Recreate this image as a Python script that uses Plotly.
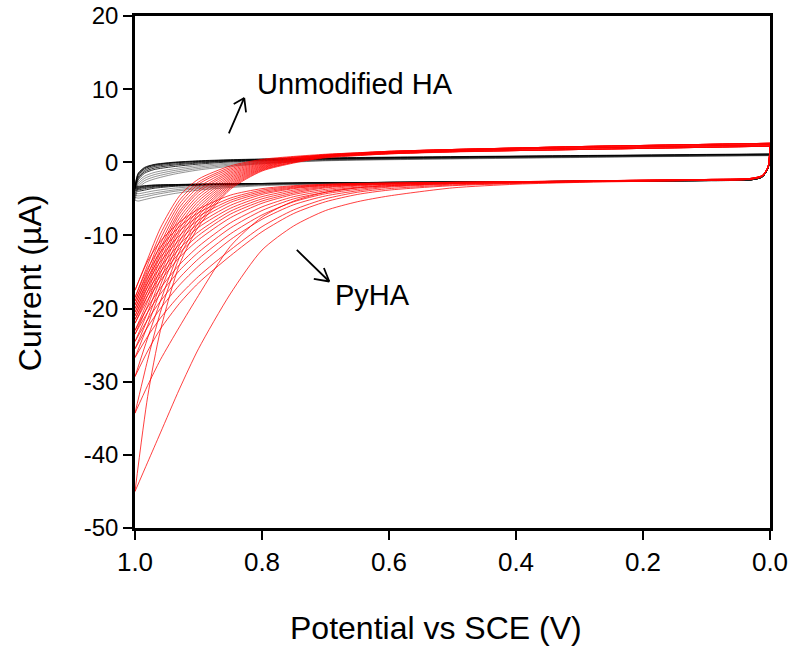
import plotly.graph_objects as go

# ---------------- data ----------------
# Potential grids (V) for the forward (upper) and reverse (lower) branches
red_fwd_x = [0.0, 0.1, 0.2, 0.3, 0.4, 0.5, 0.6, 0.65, 0.7, 0.75, 0.8, 0.85, 0.9, 0.93, 0.96, 0.98, 1.0]
red_rev_x = [1.0, 0.98, 0.96, 0.93, 0.9, 0.85, 0.8, 0.75, 0.7, 0.65, 0.6, 0.5, 0.4, 0.3, 0.2, 0.1, 0.03, 0.012, 0.003, 0.0]

# PyHA cycles: current (uA), forward branch
pyha_fwd = [
    [2.6, 2.45, 2.3, 2.15, 1.95, 1.75, 1.5, 1.3, 1.1, 0.8, 0.4, -0.5, -2.3, -4.6, -9.0, -13.2, -17.5],
    [2.4, 2.25, 2.1, 1.95, 1.8, 1.6, 1.35, 1.2, 1.0, 0.7, 0.3, -0.7, -2.7, -5.2, -9.8, -14.0, -18.5],
    [2.2, 2.05, 1.9, 1.75, 1.6, 1.45, 1.2, 1.05, 0.9, 0.7, 0.2, -0.9, -3.0, -5.7, -10.5, -14.8, -19.0],
    [2.6, 2.45, 2.3, 2.15, 1.95, 1.75, 1.5, 1.3, 1.05, 0.6, 0.1, -1.1, -3.4, -6.2, -11.2, -15.4, -19.5],
    [2.4, 2.25, 2.1, 1.95, 1.8, 1.6, 1.35, 1.2, 0.95, 0.6, 0.0, -1.3, -3.8, -6.7, -11.8, -16.0, -20.0],
    [2.2, 2.05, 1.9, 1.75, 1.6, 1.45, 1.2, 1.0, 0.85, 0.5, -0.1, -1.5, -4.1, -7.1, -12.3, -16.5, -20.5],
    [2.6, 2.45, 2.3, 2.15, 1.95, 1.75, 1.5, 1.25, 1.0, 0.5, -0.2, -1.7, -4.5, -7.6, -12.8, -17.0, -21.0],
    [2.4, 2.25, 2.1, 1.95, 1.8, 1.6, 1.35, 1.15, 0.9, 0.4, -0.3, -1.9, -4.9, -8.1, -13.4, -17.6, -21.5],
    [2.2, 2.05, 1.9, 1.75, 1.6, 1.45, 1.2, 1.0, 0.8, 0.4, -0.4, -2.1, -5.3, -8.6, -14.0, -18.2, -22.0],
    [2.6, 2.45, 2.3, 2.15, 1.95, 1.75, 1.45, 1.2, 0.9, 0.3, -0.5, -2.3, -5.7, -9.1, -14.6, -19.0, -23.0],
    [2.4, 2.25, 2.1, 1.95, 1.8, 1.6, 1.3, 1.1, 0.85, 0.3, -0.6, -2.5, -6.1, -9.6, -15.2, -19.6, -23.5],
    [2.2, 2.05, 1.9, 1.75, 1.6, 1.45, 1.15, 0.95, 0.7, 0.2, -0.7, -2.7, -6.5, -10.2, -16.0, -20.5, -24.5],
    [2.6, 2.45, 2.3, 2.15, 1.95, 1.75, 1.45, 1.2, 0.85, 0.2, -0.8, -2.9, -6.9, -10.8, -16.8, -21.4, -25.5],
    [2.4, 2.25, 2.1, 1.95, 1.8, 1.6, 1.3, 1.05, 0.75, 0.1, -0.9, -3.1, -7.3, -11.4, -17.6, -22.3, -26.7],
    [2.2, 2.05, 1.9, 1.75, 1.6, 1.4, 1.15, 0.9, 0.6, 0.0, -1.0, -3.3, -7.8, -12.2, -19.0, -24.0, -29.3],
    [2.6, 2.45, 2.3, 2.15, 1.95, 1.7, 1.4, 1.15, 0.8, 0.0, -1.1, -3.5, -8.3, -13.0, -20.5, -27.0, -34.3],
    [2.4, 2.25, 2.1, 1.95, 1.8, 1.55, 1.3, 1.05, 0.7, -0.1, -1.2, -3.7, -8.8, -14.0, -23.0, -32.0, -45.0],
]

# PyHA cycles: current (uA), reverse branch
pyha_rev = [
    [-17.5, -13.5, -10.8, -8.2, -6.4, -4.5, -3.6, -3.2, -3.0, -2.9, -2.85, -2.75, -2.65, -2.55, -2.45, -2.35, -2.2, -1.8, -0.6, 2.6],
    [-18.5, -14.5, -11.6, -8.8, -6.9, -4.9, -3.8, -3.3, -3.05, -2.9, -2.85, -2.75, -2.7, -2.6, -2.5, -2.4, -2.25, -1.85, -0.6, 2.4],
    [-19.0, -15.2, -12.3, -9.4, -7.4, -5.2, -4.0, -3.4, -3.1, -2.95, -2.85, -2.8, -2.75, -2.65, -2.55, -2.45, -2.3, -1.9, -0.7, 2.2],
    [-19.5, -15.8, -13.0, -10.0, -7.9, -5.5, -4.2, -3.5, -3.15, -3.0, -2.9, -2.75, -2.65, -2.55, -2.45, -2.35, -2.2, -1.8, -0.6, 2.6],
    [-20.0, -16.4, -13.6, -10.6, -8.4, -5.9, -4.4, -3.6, -3.2, -3.0, -2.9, -2.75, -2.7, -2.6, -2.5, -2.4, -2.25, -1.85, -0.6, 2.4],
    [-20.5, -17.0, -14.3, -11.2, -8.9, -6.3, -4.7, -3.8, -3.3, -3.05, -2.9, -2.8, -2.75, -2.65, -2.55, -2.45, -2.3, -1.9, -0.7, 2.2],
    [-21.0, -17.6, -15.0, -11.8, -9.5, -6.7, -5.0, -4.0, -3.4, -3.1, -2.95, -2.8, -2.65, -2.55, -2.45, -2.35, -2.2, -1.8, -0.6, 2.6],
    [-21.5, -18.2, -15.6, -12.4, -10.0, -7.1, -5.3, -4.2, -3.5, -3.15, -3.0, -2.8, -2.7, -2.6, -2.5, -2.4, -2.25, -1.85, -0.6, 2.4],
    [-22.0, -18.8, -16.2, -13.0, -10.6, -7.6, -5.6, -4.4, -3.7, -3.25, -3.0, -2.8, -2.75, -2.65, -2.55, -2.45, -2.3, -1.9, -0.7, 2.2],
    [-23.0, -19.8, -17.2, -14.0, -11.5, -8.3, -6.1, -4.7, -3.9, -3.4, -3.1, -2.85, -2.7, -2.55, -2.45, -2.35, -2.2, -1.8, -0.6, 2.6],
    [-23.5, -20.5, -18.0, -14.8, -12.3, -9.0, -6.6, -5.0, -4.1, -3.5, -3.2, -2.9, -2.75, -2.6, -2.5, -2.4, -2.25, -1.85, -0.6, 2.4],
    [-24.5, -21.5, -19.0, -15.8, -13.2, -9.8, -7.2, -5.4, -4.3, -3.7, -3.3, -2.9, -2.75, -2.65, -2.55, -2.45, -2.3, -1.9, -0.7, 2.2],
    [-25.5, -22.5, -20.0, -16.8, -14.2, -10.6, -7.8, -5.8, -4.6, -3.9, -3.4, -3.0, -2.8, -2.6, -2.45, -2.35, -2.2, -1.8, -0.6, 2.6],
    [-26.7, -23.8, -21.3, -18.2, -15.6, -12.0, -8.8, -6.5, -5.0, -4.1, -3.6, -3.1, -2.85, -2.65, -2.5, -2.4, -2.25, -1.85, -0.6, 2.4],
    [-29.3, -25.8, -22.8, -19.3, -16.5, -12.8, -9.5, -7.0, -5.4, -4.4, -3.8, -3.2, -2.9, -2.7, -2.55, -2.45, -2.3, -1.9, -0.7, 2.2],
    [-34.3, -30.5, -27.0, -22.5, -18.2, -11.5, -7.5, -5.3, -4.1, -3.5, -3.2, -2.9, -2.75, -2.6, -2.45, -2.35, -2.2, -1.8, -0.6, 2.6],
    [-45.0, -41.0, -37.0, -31.0, -25.5, -18.0, -12.0, -8.7, -6.6, -5.4, -4.6, -3.5, -3.0, -2.75, -2.6, -2.45, -2.3, -1.85, -0.6, 2.4],
]

# Unmodified HA cycles
ha_fwd_x = [0.0, 0.2, 0.4, 0.6, 0.7, 0.8, 0.85, 0.9, 0.94, 0.97, 0.985, 0.995, 1.0]
ha_rev_x = [1.0, 0.995, 0.985, 0.97, 0.94, 0.9, 0.85, 0.8, 0.7, 0.6, 0.4, 0.2, 0.1, 0.03, 0.012, 0.003, 0.0]

ha_fwd = [
    [1.15, 1.0, 0.85, 0.7, 0.6, 0.45, 0.35, 0.2, 0.0, -0.3, -0.7, -1.5, -3.2],
    [1.1, 0.95, 0.8, 0.65, 0.55, 0.4, 0.3, 0.15, -0.05, -0.35, -0.8, -1.6, -3.3],
    [1.05, 0.9, 0.75, 0.6, 0.5, 0.35, 0.25, 0.1, -0.1, -0.45, -0.9, -1.8, -3.4],
    [1.1, 0.95, 0.8, 0.6, 0.5, 0.35, 0.2, 0.0, -0.25, -0.6, -1.1, -2.0, -3.5],
    [1.05, 0.9, 0.75, 0.55, 0.45, 0.3, 0.15, -0.1, -0.4, -0.8, -1.3, -2.2, -3.6],
    [1.0, 0.85, 0.7, 0.5, 0.4, 0.2, 0.05, -0.25, -0.6, -1.0, -1.5, -2.4, -3.8],
    [1.0, 0.85, 0.7, 0.5, 0.35, 0.1, -0.1, -0.45, -0.9, -1.4, -1.9, -2.7, -4.2],
    [0.95, 0.8, 0.65, 0.45, 0.3, 0.0, -0.25, -0.65, -1.15, -1.7, -2.2, -3.0, -4.5],
    [0.95, 0.8, 0.6, 0.4, 0.25, -0.1, -0.4, -0.85, -1.4, -2.0, -2.5, -3.3, -4.8],
    [0.9, 0.75, 0.55, 0.35, 0.2, -0.2, -0.55, -1.05, -1.65, -2.3, -2.8, -3.6, -5.2],
]
ha_rev = [
    [-3.2, -3.3, -3.2, -3.1, -3.05, -3.0, -2.95, -2.9, -2.8, -2.75, -2.65, -2.55, -2.5, -2.4, -2.0, -0.8, 1.15],
    [-3.3, -3.4, -3.25, -3.15, -3.05, -3.0, -2.95, -2.9, -2.8, -2.75, -2.65, -2.55, -2.5, -2.4, -2.0, -0.8, 1.1],
    [-3.4, -3.5, -3.35, -3.2, -3.1, -3.0, -2.95, -2.9, -2.8, -2.75, -2.65, -2.55, -2.5, -2.4, -2.0, -0.8, 1.05],
    [-3.5, -3.6, -3.45, -3.3, -3.15, -3.05, -3.0, -2.9, -2.8, -2.75, -2.65, -2.55, -2.5, -2.4, -2.0, -0.8, 1.1],
    [-3.6, -3.75, -3.6, -3.4, -3.2, -3.1, -3.0, -2.95, -2.85, -2.75, -2.65, -2.55, -2.5, -2.4, -2.0, -0.8, 1.05],
    [-3.8, -3.95, -3.8, -3.55, -3.3, -3.15, -3.05, -2.95, -2.85, -2.75, -2.65, -2.55, -2.5, -2.4, -2.0, -0.8, 1.0],
    [-4.2, -4.3, -4.15, -3.9, -3.55, -3.3, -3.15, -3.0, -2.85, -2.75, -2.65, -2.55, -2.5, -2.4, -2.0, -0.8, 1.0],
    [-4.5, -4.6, -4.45, -4.2, -3.8, -3.45, -3.2, -3.05, -2.9, -2.8, -2.65, -2.55, -2.5, -2.4, -2.0, -0.8, 0.95],
    [-4.8, -4.9, -4.75, -4.45, -4.0, -3.6, -3.3, -3.1, -2.9, -2.8, -2.65, -2.55, -2.5, -2.4, -2.0, -0.8, 0.95],
    [-5.2, -5.3, -5.1, -4.8, -4.3, -3.8, -3.45, -3.2, -2.95, -2.8, -2.65, -2.55, -2.5, -2.4, -2.0, -0.8, 0.9],
]
ha_dark_count = 6

x_tick_vals = [1.0, 0.8, 0.6, 0.4, 0.2, 0.0]
x_tick_text = ["1.0", "0.8", "0.6", "0.4", "0.2", "0.0"]
y_tick_vals = [20, 10, 0, -10, -20, -30, -40, -50]
y_tick_text = ["20", "10", "0", "-10", "-20", "-30", "-40", "-50"]

FONT = "Liberation Sans, Arial, Helvetica, sans-serif"

# ---------------- figure ----------------
fig = go.Figure()

for i, (yf, yr) in enumerate(zip(ha_fwd, ha_rev)):
    col = "rgba(0,0,0,0.8)" if i < ha_dark_count else "rgba(40,40,40,0.5)"
    for xs, ys in ((ha_fwd_x, yf), (ha_rev_x, yr)):
        fig.add_trace(go.Scatter(x=xs, y=ys, mode="lines",
                                 line=dict(color=col, width=1, shape="spline", smoothing=0.7),
                                 hoverinfo="skip", showlegend=False))

for yf, yr in zip(pyha_fwd, pyha_rev):
    for xs, ys in ((red_fwd_x, yf), (red_rev_x, yr)):
        fig.add_trace(go.Scatter(x=xs, y=ys, mode="lines",
                                 line=dict(color="rgba(255,0,0,0.75)", width=1, shape="spline", smoothing=0.7),
                                 hoverinfo="skip", showlegend=False))

axis_common = dict(showline=True, linecolor="black", linewidth=2.5, mirror=True,
                   ticks="outside", ticklen=9, tickwidth=2, tickcolor="black",
                   showgrid=False, zeroline=False, automargin=False,
                   ticklabeloverflow="allow")

fig.update_xaxes(range=[1.0, 0.0], tickvals=x_tick_vals, ticktext=x_tick_text,
                 tickfont=dict(family=FONT, size=26, color="black"), **axis_common)
fig.update_yaxes(range=[-50, 20], tickvals=y_tick_vals, ticktext=y_tick_text,
                 tickfont=dict(family=FONT, size=24, color="black"), **axis_common)


def open_arrow(x, y, tail, arms):
    """Hand-drawn style arrow: shaft plus two open-head strokes (pixel offsets)."""
    out = []
    for ax, ay in [tail] + arms:
        out.append(dict(text="", xref="x", yref="y", x=x, y=y, ax=ax, ay=ay,
                        showarrow=True, arrowhead=0, arrowwidth=1.8, arrowcolor="black",
                        standoff=0, startstandoff=0))
    return out


annotations = [
    dict(text="Potential vs SCE (V)", xref="paper", yref="paper", x=0.474, y=-0.195,
         xanchor="center", yanchor="middle", showarrow=False,
         font=dict(family=FONT, size=32, color="black")),
    dict(text="Current (µA)", xref="paper", yref="paper", x=-0.165, y=0.4785,
         xanchor="center", yanchor="middle", textangle=-90, showarrow=False,
         font=dict(family=FONT, size=32, color="black")),
    dict(text="Unmodified HA", xref="x", yref="y", x=0.811, y=10.7,
         xanchor="left", yanchor="middle", showarrow=False,
         font=dict(family=FONT, size=29, color="black")),
    dict(text="PyHA", xref="x", yref="y", x=0.688, y=-18.1,
         xanchor="left", yanchor="middle", showarrow=False,
         font=dict(family=FONT, size=29, color="black")),
]
annotations += open_arrow(0.828, 8.8, (-16, 37), [(-12, 7), (2, 16)])
annotations += open_arrow(0.694, -16.3, (-34, -33), [(-17, -3), (-6, -15)])

fig.update_layout(
    width=800, height=649,
    margin=dict(l=135, r=30, t=16, b=121),
    paper_bgcolor="white", plot_bgcolor="white",
    font=dict(family=FONT, color="black"),
    annotations=annotations,
)

# remove the default 8px page margin so the 800x649 figure fills the window exactly
fig.write_html("out.html", config={"displayModeBar": False},
               post_script="document.body.style.margin='0';")
